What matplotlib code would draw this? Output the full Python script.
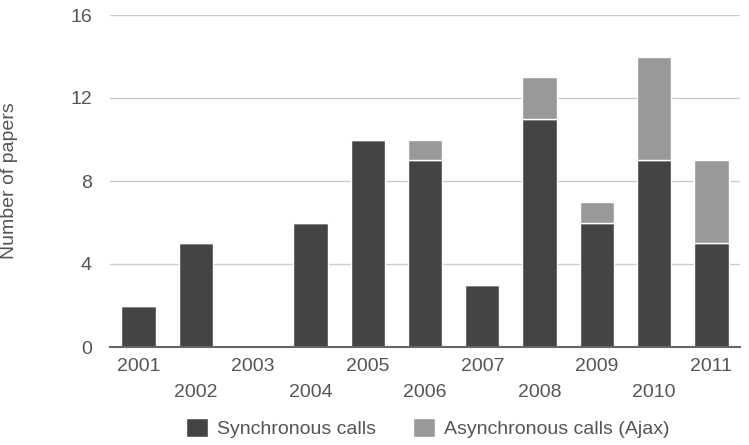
import matplotlib
matplotlib.use("Agg")

import matplotlib.pyplot as plt
import numpy as np

years = ["2001", "2002", "2003", "2004", "2005", "2006",
         "2007", "2008", "2009", "2010", "2011"]
sync_calls = [2, 5, 0, 6, 10, 9, 3, 11, 6, 9, 5]
async_calls = [0, 0, 0, 0, 0, 1, 0, 2, 1, 5, 4]

plt.rcParams["font.family"] = ["Liberation Sans", "DejaVu Sans"]
text_color = "#555555"

fig = plt.figure(figsize=(7.49, 4.45), dpi=100)
ax = fig.add_axes([110 / 749, 1 - 347 / 445, 630 / 749, 332 / 445])

x = np.arange(len(years))
ax.bar(x, sync_calls, width=0.6, color="#444444", edgecolor="white",
       linewidth=1, label="Synchronous calls", zorder=3)
ax.bar(x, async_calls, width=0.6, bottom=sync_calls, color="#999999",
       edgecolor="white", linewidth=1, label="Asynchronous calls (Ajax)", zorder=3)

ax.set_xlim(-0.5, len(years) - 0.5)
ax.set_ylim(0, 16)
ax.set_yticks([0, 4, 8, 12, 16])
ax.grid(axis="y", color="#cccccc", linewidth=1, zorder=0)
for s in ["top", "right", "left"]:
    ax.spines[s].set_visible(False)
ax.spines["bottom"].set_color("#666666")
ax.spines["bottom"].set_linewidth(1.5)
ax.spines["bottom"].set_zorder(4)

ax.tick_params(axis="both", length=0, labelsize=14, labelcolor=text_color)
ax.tick_params(axis="y", pad=13)
ax.tick_params(axis="x", pad=8)

# staggered year labels
labels = [y if i % 2 == 0 else "\n" + y for i, y in enumerate(years)]
ax.set_xticks(x)
ax.set_xticklabels(labels, linespacing=1.65)

fig.text(10 / 749, 0.5 * ((1 - 347 / 445) + (1 - 15 / 445)), "Number of papers",
         rotation=90, ha="center", va="center", fontsize=14, color=text_color)

fig.legend(loc="center", bbox_to_anchor=(428 / 749, 1 - 428 / 445), ncol=2,
           frameon=False, fontsize=14, labelcolor=text_color,
           handlelength=1.1, handleheight=1.1, handletextpad=0.5,
           columnspacing=1.9)

fig.savefig("out.png", dpi=100)
